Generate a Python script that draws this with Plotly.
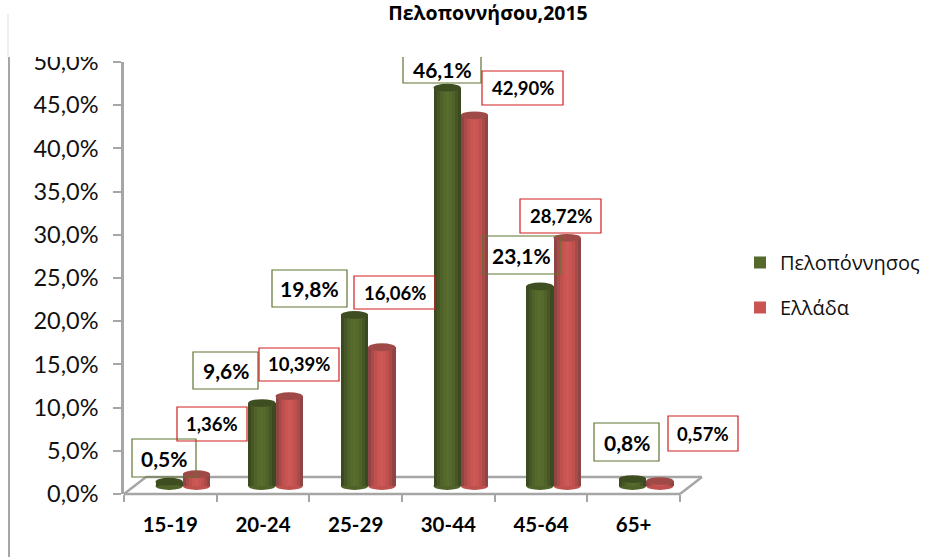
import plotly.graph_objects as go

categories = ["15-19", "20-24", "25-29", "30-44", "45-64", "65+"]
peloponnisos = [0.5, 9.6, 19.8, 46.1, 23.1, 0.8]
ellada = [1.36, 10.39, 16.06, 42.90, 28.72, 0.57]
peloponnisos_labels = ["0,5%", "9,6%", "19,8%", "46,1%", "23,1%", "0,8%"]
ellada_labels = ["1,36%", "10,39%", "16,06%", "42,90%", "28,72%", "0,57%"]
y_ticks = [0, 5, 10, 15, 20, 25, 30, 35, 40, 45, 50]
y_tick_labels = ["0,0%", "5,0%", "10,0%", "15,0%", "20,0%", "25,0%", "30,0%", "35,0%", "40,0%", "45,0%", "50,0%"]

# layout (pixels in the 928x557 page)
W, H = 928, 557
L, R, T, B = 124, 680, 62, 494
BASE_PX = 486
peloponnisos_boxes = [(132, 439, 196, 477), (193, 352, 258, 389), (272, 270, 347, 307),
                      (403, 50, 481, 83), (483, 236, 560, 274), (594, 423, 659, 461)]
ellada_boxes = [(177, 407, 247, 441), (259, 348, 339, 381), (354, 276, 435, 309),
                (482, 71, 563, 105), (520, 199, 601, 233), (668, 416, 738, 451)]


def px(x):
    return (x - L) / (R - L)


def py(y):
    return (B - y) / (B - T)


green_strips = ["#3c4a20", "#465725", "#4f6229", "#55692c", "#586d2d", "#55692c", "#4f6229", "#465725", "#3c4a20"]
red_strips = ["#8f4543", "#ab4b49", "#c0504e", "#c95553", "#cd5957", "#c95553", "#c0504e", "#ab4b49", "#8f4543"]
series = [
    ("Πελοπόννησος", peloponnisos, green_strips, -0.16, "#3f4e20", "#4f6228"),
    ("Ελλάδα", ellada, red_strips, 0.135, "#a04a48", "#c0504d"),
]
BAR_W = 0.295

fig = go.Figure()
# keeps the visible percentage axis alive
fig.add_trace(go.Scatter(x=categories, y=[0] * 6, mode="none", showlegend=False, hoverinfo="skip"))

shapes = []
line_grey = "#a6a6a6"


def seg(x0, y0, x1, y1, color=line_grey, width=2.5):
    shapes.append(dict(type="line", xref="paper", yref="paper", x0=px(x0), y0=py(y0), x1=px(x1), y1=py(y1),
                       line=dict(color=color, width=width), layer="below"))


# floor of the 3-D box
seg(L, B, R, B)
seg(L + 22, 477, R + 22, 477)
seg(L, B, L + 22, 477)
seg(R, B, R + 22, 477)

CAP = 0.45  # half height of the cylinder ends, in axis units
for name, values, strips, off, cap, body in series:
    n = len(strips)
    for j, c in enumerate(strips):
        fig.add_trace(go.Bar(
            x=categories, y=values, name=name, yaxis="y2",
            width=BAR_W / n + 0.002, offset=off + j * BAR_W / n,
            marker=dict(color=c, line=dict(width=0)),
            legendgroup=name, showlegend=(j == 3),
        ))
    for i, v in enumerate(values):
        shapes.append(dict(type="circle", xref="x", yref="y2", layer="below",
                           x0=i + off, x1=i + off + BAR_W, y0=-CAP, y1=CAP,
                           fillcolor=body, line=dict(width=0)))
        shapes.append(dict(type="circle", xref="x", yref="y2", layer="above",
                           x0=i + off, x1=i + off + BAR_W, y0=v - CAP, y1=v + CAP,
                           fillcolor=cap, line=dict(width=0)))

annotations = []


def boxes(labels, rects, edge, size):
    for text, (x0, y0, x1, y1) in zip(labels, rects):
        shapes.append(dict(type="rect", xref="paper", yref="paper", layer="above",
                           x0=px(x0), x1=px(x1), y0=py(y1), y1=py(y0),
                           fillcolor="rgba(255,255,255,0)", line=dict(color=edge, width=1.2)))
        annotations.append(dict(text=f"<b>{text}</b>", xref="paper", yref="paper", showarrow=False,
                                x=px((x0 + x1) / 2), y=py((max(y0, 57) + y1) / 2),
                                xanchor="center", yanchor="middle",
                                font=dict(family="Lato", size=size, color="black")))


boxes(peloponnisos_labels, peloponnisos_boxes, "#5f7530", 21)
boxes(ellada_labels, ellada_boxes, "#d02020", 18.5)

# white band hiding the top of the page, and the slide's left edge
shapes.append(dict(type="rect", xref="paper", yref="paper", layer="above", x0=px(10), x1=px(W), y0=py(57), y1=py(0),
                   fillcolor="white", line=dict(width=0)))
shapes.append(dict(type="line", xref="paper", yref="paper", layer="above", x0=px(9), x1=px(9), y0=py(57), y1=py(H),
                   line=dict(color="#a6a6a6", width=2)))
shapes.append(dict(type="line", xref="paper", yref="paper", layer="above", x0=px(8), x1=px(8), y0=py(14), y1=py(57),
                   line=dict(color="#eeeeee", width=2)))

fig.update_layout(
    width=W, height=H, autosize=False,
    margin=dict(l=L, r=W - R, t=T, b=H - B, pad=0, autoexpand=False),
    paper_bgcolor="white", plot_bgcolor="rgba(0,0,0,0)",
    barmode="overlay", bargap=0,
    title=dict(text="<b>Πελοποννήσου,2015</b>", xref="container", yref="container",
               x=488 / W, y=1 - 13 / H, xanchor="center", yanchor="middle",
               font=dict(family="Open Sans", size=19.5, color="black")),
    xaxis=dict(type="category", categoryorder="array", categoryarray=categories, range=[-0.5, 5.5],
               tickson="boundaries", ticks="outside", ticklen=7, tickwidth=2, tickcolor=line_grey,
               showline=False, showgrid=False, zeroline=False, ticklabelstandoff=16,
               tickfont=dict(family="Lato", size=20.5, color="black", weight="bold")),
    yaxis=dict(range=[0, 50], tickvals=y_ticks, ticktext=y_tick_labels, ticks="outside", ticklen=8,
               tickwidth=2, tickcolor=line_grey, showline=True, linecolor=line_grey, linewidth=2.5,
               showgrid=False, zeroline=False, ticklabelstandoff=10,
               tickfont=dict(family="Lato", size=23.5, color="#111111")),
    yaxis2=dict(overlaying="y", visible=False, range=[-(B - BASE_PX) / (B - T) * 50, 50 - (B - BASE_PX) / (B - T) * 50]),
    legend=dict(x=px(740), y=py(243), xanchor="left", yanchor="top", tracegroupgap=16,
                bgcolor="rgba(0,0,0,0)", font=dict(family="Open Sans", size=20, color="#111111")),
    shapes=shapes, annotations=annotations,
)

fig.write_html("out.html", config={"displayModeBar": False},
               post_script="document.body.style.margin='0';")
